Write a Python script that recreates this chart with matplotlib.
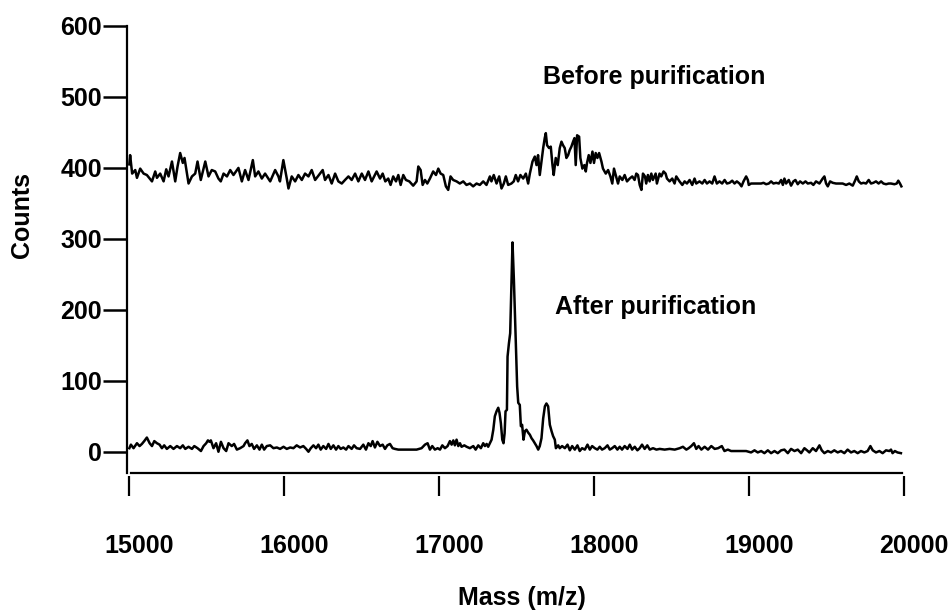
import matplotlib
matplotlib.use("Agg")
import matplotlib.pyplot as plt
from matplotlib.transforms import ScaledTranslation

plt.rcParams['font.family'] = ['Liberation Sans', 'DejaVu Sans']
plt.rcParams['font.weight'] = 'bold'

# spectrum before purification (mass, counts)
before_mass = [
    15000, 15005, 15018, 15038, 15049, 15070, 15092, 15113, 15146, 15167, 15178, 15199,
    15221, 15238, 15253, 15275, 15296, 15311, 15328, 15345, 15356, 15382, 15404, 15425,
    15440, 15461, 15490, 15511, 15532, 15554, 15575, 15590, 15608, 15630, 15651, 15672,
    15704, 15726, 15747, 15769, 15797, 15812, 15833, 15855, 15876, 15909, 15941, 15962,
    15972, 15994, 16016, 16027, 16048, 16070, 16091, 16113, 16134, 16156, 16177, 16199,
    16248, 16263, 16285, 16306, 16328, 16349, 16371, 16392, 16414, 16435, 16457, 16478,
    16500, 16521, 16543, 16564, 16596, 16618, 16635, 16652,
    16671, 16686, 16703, 16721, 16736, 16751, 16768, 16785, 16807, 16832, 16854, 16865,
    16880, 16893, 16908, 16923, 16940, 16961, 16979, 16994, 17009, 17026, 17043, 17058,
    17073, 17090, 17112, 17133, 17155, 17176, 17198, 17219, 17241, 17262, 17284, 17305,
    17327, 17337, 17352, 17370, 17387, 17402, 17417, 17430, 17445, 17466, 17481, 17494,
    17509, 17524, 17542, 17559, 17574, 17585, 17602, 17617, 17628, 17638, 17649, 17660,
    17671, 17681, 17688, 17696, 17709, 17720, 17731, 17739, 17752, 17765, 17778, 17789,
    17799, 17810, 17821, 17832, 17842, 17853, 17864, 17873, 17881, 17890, 17903, 17911,
    17924, 17937, 17946, 17954, 17965, 17976, 17989, 17999, 18010, 18021, 18032, 18047,
    18057, 18075, 18090, 18105, 18117, 18128, 18139, 18154, 18165, 18182, 18197, 18212,
    18229, 18246, 18261, 18272, 18283, 18294, 18305, 18315, 18328,
    18336, 18347, 18358, 18369, 18379, 18397, 18405, 18422, 18433, 18448, 18461, 18470,
    18487, 18504, 18519, 18530, 18551, 18569, 18584, 18599, 18616, 18633, 18648, 18659,
    18680, 18698, 18713, 18728, 18745, 18762, 18777, 18792, 18809, 18826, 18842, 18857,
    18874, 18891, 18906, 18921, 18938, 18951, 18964, 18981, 18992, 18998, 19013, 19046,
    19078, 19093, 19110, 19127, 19142, 19157, 19175, 19192, 19207, 19218, 19228, 19239,
    19256, 19271, 19286, 19299, 19314, 19329, 19347, 19364, 19379, 19400, 19415, 19432,
    19454, 19475, 19486, 19497, 19508, 19523, 19540, 19561, 19604, 19626, 19647, 19669,
    19686, 19695, 19708, 19723, 19738, 19755, 19772, 19787, 19802, 19819, 19836, 19852,
    19867, 19884, 19901, 19916, 19938, 19953, 19963, 19974, 19983,
]
before_counts = [
    405, 418, 392, 397, 386, 399, 392, 390, 381, 395, 386, 392,
    381, 398, 388, 409, 381, 402, 421, 407, 414, 378, 388, 392,
    409, 383, 409, 388, 397, 395, 385, 381, 392, 388, 397, 390,
    400, 381, 397, 383, 411, 388, 395, 385, 392, 381, 397, 388,
    381, 411, 385, 371, 388, 381, 390, 383, 392, 388, 397, 383,
    397, 383, 390, 378, 392, 381, 378, 383, 388, 383, 392, 381,
    392, 383, 395, 381, 395, 385, 392, 381,
    385, 376, 388, 381, 390, 376, 390, 383, 381, 375, 381, 402,
    397, 376, 383, 378, 385, 395, 390, 399, 392, 390, 374, 369,
    388, 383, 381, 378, 381, 376, 378, 374, 378, 376, 381, 376,
    388, 381, 390, 378, 388, 371, 378, 388, 376, 378, 381, 390,
    381, 390, 385, 392, 378, 392, 409, 416, 404, 418, 390, 409,
    428, 442, 449, 432, 428, 430, 404, 390, 414, 404, 428, 437,
    432, 428, 414, 418, 425, 430, 437, 442, 404, 446, 444, 414,
    399, 404, 395, 407, 418, 407, 423, 407, 421, 414, 421, 409,
    399, 392, 397, 388, 378, 399, 390, 378, 388, 383, 390, 381,
    385, 388, 383, 392, 390, 376, 369, 392, 388,
    378, 390, 381, 392, 383, 392, 378, 392, 388, 395, 392, 385,
    381, 385, 378, 388, 381, 376, 381, 378, 383, 376, 385, 378,
    381, 378, 383, 378, 381, 378, 388, 378, 381, 378, 383, 378,
    379, 382, 378, 381, 378, 374, 381, 388, 383, 376, 378, 378,
    378, 379, 377, 378, 381, 378, 379, 378, 383, 376, 385, 378,
    383, 375, 381, 383, 377, 381, 378, 381, 378, 379, 376, 381,
    378, 385, 388, 378, 374, 381, 379, 378, 378, 376, 378, 375,
    383, 388, 381, 378, 379, 378, 383, 378, 379, 381, 378, 381,
    378, 377, 378, 378, 377, 378, 382, 378, 374,
]

# spectrum after purification
after_mass = [
    15000, 15010, 15027, 15049, 15066, 15081, 15096, 15113, 15131, 15146, 15161, 15178,
    15195, 15210, 15225, 15242, 15264, 15285, 15307, 15328, 15345, 15361, 15382, 15404,
    15419, 15440, 15462, 15479, 15496, 15507, 15517, 15526, 15543, 15560, 15575, 15591,
    15608, 15625, 15640, 15661, 15676, 15694, 15715, 15737, 15747, 15762, 15775, 15790,
    15805, 15823, 15840, 15855, 15870, 15887, 15909, 15930, 15952, 15973, 15995, 16016,
    16038, 16059, 16080, 16102, 16123, 16141, 16156, 16171, 16188, 16205, 16220, 16235,
    16252, 16270, 16285, 16300, 16317, 16334, 16349, 16364, 16381, 16399, 16414, 16435,
    16450, 16467, 16489, 16510, 16527, 16543, 16558, 16570, 16585, 16601, 16618, 16635,
    16650, 16665, 16682, 16699, 16714, 16736, 16768, 16811, 16854, 16886,
    16908, 16925, 16940, 16955, 16972, 16990, 17005, 17020, 17037, 17054, 17069, 17080,
    17091, 17101, 17112, 17123, 17134, 17144, 17162, 17177, 17198, 17220, 17235, 17252,
    17269, 17284, 17295, 17306, 17316, 17327, 17338, 17349, 17359, 17370, 17381, 17389,
    17398, 17407, 17415, 17422, 17428, 17437, 17441, 17450, 17458, 17467, 17473, 17482,
    17493, 17503, 17510, 17520, 17527, 17535, 17544, 17553, 17563, 17574, 17585, 17596,
    17606, 17617, 17628, 17639, 17649, 17660, 17671, 17682, 17692, 17703, 17714, 17725,
    17735, 17746, 17753, 17768, 17778, 17793, 17811, 17828, 17843, 17858, 17875, 17892,
    17907, 17922, 17940, 17957, 17972, 17987, 18004, 18021, 18036, 18051, 18068, 18086,
    18101, 18116, 18133, 18150, 18165, 18180, 18197, 18215, 18230, 18245, 18262, 18279,
    18294, 18309, 18326, 18343, 18359, 18380, 18402, 18423, 18455, 18487, 18520, 18552,
    18573, 18595, 18610, 18627, 18644, 18659, 18674, 18692, 18713, 18735, 18756, 18778,
    18800, 18824, 18841, 18863, 18884, 18917, 18949, 18981, 19013, 19035, 19056, 19078,
    19099, 19121, 19142, 19164, 19185, 19207, 19228, 19250, 19271, 19293, 19314, 19336,
    19357, 19374, 19389, 19411, 19432, 19454, 19469, 19486, 19508, 19529, 19550, 19572,
    19593, 19615, 19636, 19658, 19679, 19701, 19722, 19744, 19765, 19783, 19798, 19819,
    19841, 19862, 19884, 19905, 19916, 19926, 19941, 19958, 19980,
]
after_counts = [
    5, 10, 5, 12, 8, 11, 15, 20, 12, 8, 15, 12,
    10, 5, 9, 4, 8, 4, 8, 5, 9, 4, 7, 4,
    8, 5, 1, 8, 12, 16, 14, 16, 5, 12, 0, 14,
    5, 1, 12, 8, 11, 3, 5, 8, 12, 16, 8, 11,
    4, 9, 3, 10, 3, 8, 9, 5, 6, 4, 7, 4,
    6, 5, 9, 6, 8, 4, 0, 5, 9, 5, 10, 3,
    8, 4, 11, 4, 9, 3, 8, 4, 6, 3, 8, 4,
    9, 5, 4, 10, 3, 12, 8, 15, 6, 14, 8, 10,
    4, 9, 11, 5, 4, 3, 3, 3, 3, 5,
    10, 12, 3, 8, 3, 5, 3, 9, 5, 8, 15, 10,
    16, 9, 17, 8, 12, 7, 9, 7, 5, 8, 3, 9,
    5, 12, 8, 11, 7, 12, 17, 31, 50, 57, 62, 55,
    40, 17, 12, 26, 57, 59, 134, 153, 167, 242, 295, 242,
    163, 92, 69, 66, 36, 38, 17, 29, 31, 27, 24, 19,
    16, 12, 8, 3, 8, 19, 47, 64, 68, 64, 38, 29,
    22, 17, 5, 9, 5, 8, 5, 10, 2, 8, 3, 9,
    1, 5, 3, 10, 3, 8, 5, 3, 7, 3, 5, 9,
    3, 5, 8, 3, 7, 3, 8, 4, 10, 3, 7, 2,
    5, 10, 4, 9, 3, 5, 3, 4, 3, 4, 3, 5,
    7, 3, 5, 8, 12, 4, 8, 3, 7, 3, 8, 4,
    5, 8, 1, 3, 1, 1, 1, 1, -1, 2, -1, 1,
    -2, 2, -2, 1, -2, 2, 3, -2, 4, 1, 3, -2,
    5, 2, -1, 5, 1, 9, 2, -2, 1, -1, 2, -1,
    1, -2, 3, -1, 1, -2, 1, -1, 1, 8, 2, -1,
    1, -2, 2, 1, 3, -2, 1, -1, -2,
]

yticks = [0, 100, 200, 300, 400, 500, 600]
xticks = [15000, 16000, 17000, 18000, 19000, 20000]

fig = plt.figure(figsize=(9.53, 6.16), dpi=100)
ax = fig.add_axes([0.1333, 0.2321, 0.8153, 0.7257])

ax.plot(before_mass, before_counts, color='black', lw=1.8)
ax.plot(after_mass, after_counts, color='black', lw=1.8)

ax.set_xlim(14985, 20000)
ax.set_ylim(-30, 600)

for s in ['top', 'right']:
    ax.spines[s].set_visible(False)
ax.spines['left'].set_linewidth(1.6)
ax.spines['bottom'].set_linewidth(1.6)
ax.spines['bottom'].set_bounds(15010, 19990)

ax.set_yticks(yticks)
ax.tick_params(axis='y', length=17, width=1.8, pad=1, labelsize=18)
ax.tick_params(axis='x', bottom=False, labelbottom=False)

# x ticks sit a little below the axis line, as in the original
sec = ax.secondary_xaxis(-0.007)
sec.spines['bottom'].set_visible(False)
sec.set_xticks(xticks)
sec.tick_params(length=14.5, width=1.6, pad=27, labelsize=18)
shift = ScaledTranslation(0.10, 0, fig.dpi_scale_trans)
for lab in sec.get_xticklabels():
    lab.set_transform(lab.get_transform() + shift)

fig.text(22 / 953, 1 - 215 / 616, 'Counts', rotation=90, fontsize=18,
         fontweight='bold', ha='center', va='center')
fig.text(522 / 953, 1 - 598 / 616, 'Mass (m/z)', fontsize=18,
         fontweight='bold', ha='center', va='center')

ax.text(17669, 528, 'Before purification', fontsize=18, fontweight='bold', va='center')
ax.text(17747, 204, 'After purification', fontsize=18, fontweight='bold', va='center')

fig.savefig('out.png', dpi=100)
